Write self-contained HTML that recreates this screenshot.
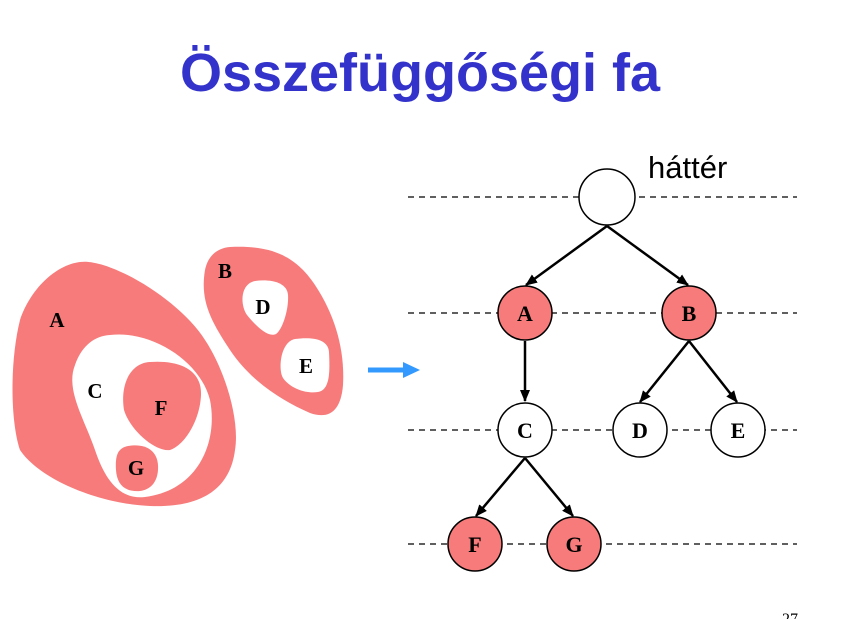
<!DOCTYPE html>
<html><head><meta charset="utf-8"><style>
html,body{margin:0;padding:0;background:#fff;width:860px;height:619px;overflow:hidden}
</style></head><body>
<svg width="860" height="619" viewBox="0 0 860 619" xmlns="http://www.w3.org/2000/svg">
<defs><marker id="ah" markerWidth="12" markerHeight="10" refX="11" refY="5" orient="auto" markerUnits="userSpaceOnUse"><path d="M0,0 L12,5 L0,10 Z" fill="#000"/></marker></defs>
<text x="420" y="91" text-anchor="middle" font-family="Liberation Sans, sans-serif" font-weight="bold" font-size="54" fill="#3333cc">Összefüggőségi fa</text>
<g fill="#f77b7b">
<path d="M80 262 C110 258,180 300,205 340 C225 370,240 420,235 450 C230 490,200 508,150 506 C100 504,40 480,20 450 C10 420,10 360,20 320 C30 290,55 265,80 262 Z"/>
<path d="M230 247 C270 245,295 255,315 285 C335 315,345 350,343 385 C341 410,330 420,310 413 C280 400,250 380,230 350 C210 320,200 300,205 270 C208 255,218 248,230 247 Z"/>
</g>
<g fill="#fff">
<path d="M110 335 C150 330,200 360,210 400 C218 440,200 490,145 497 C120 500,105 480,95 450 C85 420,65 390,75 365 C82 345,95 336,110 335 Z"/>
<path d="M255 281 C270 279,287 282,288 295 C289 310,282 330,276 334 C268 338,255 325,247 315 C240 305,240 284,255 281 Z"/>
<path d="M295 339 C310 337,328 338,329 352 C330 372,330 390,318 392 C305 394,290 388,283 378 C278 370,280 342,295 339 Z"/>
</g>
<g fill="#f77b7b">
<path d="M150 362 C180 360,202 370,201 395 C200 420,185 445,170 450 C155 452,130 430,124 410 C120 385,130 363,150 362 Z"/>
<path d="M128 446 C145 443,157 450,158 465 C159 482,150 490,140 491 C125 492,117 485,116 470 C115 455,118 448,128 446 Z"/>
</g>
<g font-family="Liberation Serif, serif" font-weight="bold" font-size="21" fill="#000" text-anchor="middle">
<text x="57" y="327">A</text><text x="225" y="278">B</text><text x="95" y="398">C</text>
<text x="263" y="314">D</text><text x="306" y="373">E</text><text x="161" y="415">F</text><text x="136" y="475">G</text>
</g>
<path d="M368 370 L408 370" stroke="#3399ff" stroke-width="5"/><path d="M403 362 L420 370 L403 378 Z" fill="#3399ff"/>
<g stroke="#000" stroke-width="1.3" stroke-dasharray="6,5">
<line x1="408" y1="197" x2="797" y2="197"/><line x1="408" y1="313" x2="797" y2="313"/>
<line x1="408" y1="430" x2="797" y2="430"/><line x1="408" y1="544" x2="797" y2="544"/>
</g>
<g stroke="#000" stroke-width="2.5" marker-end="url(#ah)">
<line x1="607" y1="226" x2="526" y2="285"/><line x1="607" y1="226" x2="688" y2="285"/>
<line x1="525" y1="341" x2="525" y2="401"/><line x1="689" y1="341" x2="640" y2="402"/><line x1="689" y1="341" x2="737" y2="402"/>
<line x1="525" y1="458" x2="476" y2="516"/><line x1="525" y1="458" x2="573" y2="516"/>
</g>
<g stroke="#000" stroke-width="1.5">
<circle cx="607" cy="197" r="28" fill="#fff"/>
<circle cx="525" cy="313" r="27" fill="#f77b7b"/><circle cx="689" cy="313" r="27" fill="#f77b7b"/>
<circle cx="525" cy="430" r="27" fill="#fff"/><circle cx="640" cy="430" r="27" fill="#fff"/><circle cx="738" cy="430" r="27" fill="#fff"/>
<circle cx="475" cy="544" r="27" fill="#f77b7b"/><circle cx="574" cy="544" r="27" fill="#f77b7b"/>
</g>
<g font-family="Liberation Serif, serif" font-weight="bold" font-size="22" fill="#000" text-anchor="middle">
<text x="525" y="321">A</text><text x="689" y="321">B</text><text x="525" y="438">C</text><text x="640" y="438">D</text>
<text x="738" y="438">E</text><text x="475" y="552">F</text><text x="574" y="552">G</text>
</g>
<text x="648" y="178" font-family="Liberation Sans, sans-serif" font-size="31" fill="#000">háttér</text>
<text x="790" y="624" font-family="Liberation Serif, serif" font-size="16" fill="#000" text-anchor="middle">27</text>
</svg>
</body></html>
